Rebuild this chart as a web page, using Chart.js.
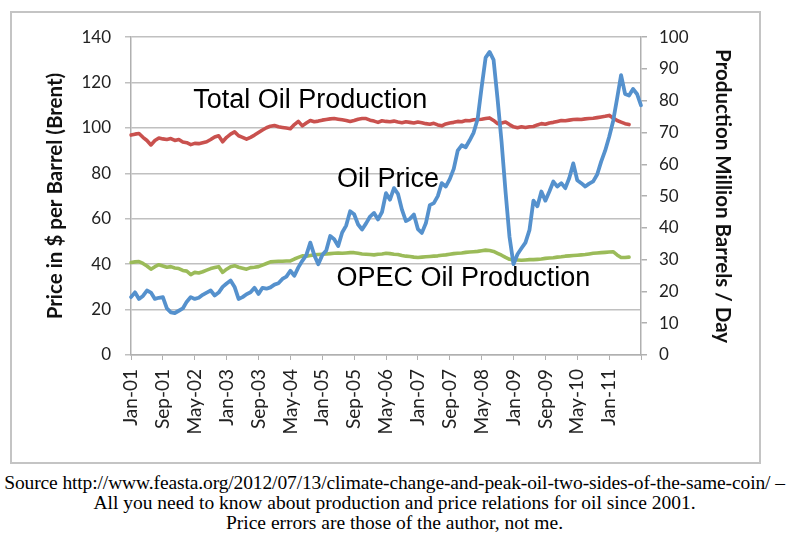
<!DOCTYPE html>
<html>
<head>
<meta charset="utf-8">
<script src="https://cdn.jsdelivr.net/npm/chart.js@4"></script>
<style>
  body { margin: 0; background: #fff; width: 789px; height: 535px; position: relative; overflow: hidden; }
  #box { position: absolute; left: 10px; top: 11px; width: 747px; height: 449px; border: 2px solid #c4c4c4; }
  #caption { position: absolute; left: 0; top: 473px; width: 789px; text-align: center;
             font-family: "Liberation Serif", "Times New Roman", serif; font-size: 19.5px; line-height: 20px; color: #000; }
  #line1 { letter-spacing: -0.12px; white-space: nowrap; }
</style>
</head>
<body>
<div id="box"><canvas id="myChart" width="747" height="449"></canvas></div>
<div id="caption">
  <div id="line1">Source http://www.feasta.org/2012/07/13/climate-change-and-peak-oil-two-sides-of-the-same-coin/ &ndash;</div>
  <div>All you need to know about production and price relations for oil since 2001.</div>
  <div>Price errors are those of the author, not me.</div>
</div>
<script>
// months Jan-01 .. Sep-11
var monthNames = ['Jan', 'Feb', 'Mar', 'Apr', 'May', 'Jun', 'Jul', 'Aug', 'Sep', 'Oct', 'Nov', 'Dec'];
var years = ['01', '02', '03', '04', '05', '06', '07', '08', '09', '10', '11'];
var months = [];
for (var y = 0; y < years.length; y++) {
  for (var m = 0; m < 12; m++) {
    if (y == 10 && m > 8) break;
    months.push(monthNames[m] + '-' + years[y]);
  }
}

// Brent price, $ per barrel (left axis)
var oilPrice = [
  25.5, 27.6, 24.7, 26.0, 28.4, 27.5, 24.7, 25.2, 25.5, 20.5, 18.8, 18.5,
  19.5, 20.5, 23.5, 25.5, 24.7, 25.2, 26.5, 27.5, 28.4, 26.2, 27.5, 30.0,
  31.5, 32.8, 30.0, 24.7, 25.5, 26.8, 27.6, 29.6, 26.9, 29.6, 29.2, 29.8,
  31.0, 31.6, 33.5, 34.5, 37.1, 34.9, 38.6, 41.5, 44.0, 49.5, 44.0, 40.0,
  44.0, 46.0, 52.4, 51.0, 48.0, 54.0, 57.0, 63.3, 62.0, 57.5, 55.3, 58.0,
  61.0, 62.6, 59.7, 63.0, 71.3, 68.4, 73.5, 71.0, 64.0, 59.0, 60.0, 61.9,
  55.5, 53.8, 58.0, 66.0, 66.9, 70.0, 75.7, 74.2, 77.5, 82.0, 90.0, 92.4,
  91.5, 94.6, 98.0, 104.0, 118.0, 131.0, 133.5, 130.0, 112.8, 94.0, 72.0, 52.0,
  40.0, 44.4, 47.0, 49.5, 55.0, 68.0, 65.5, 72.0, 68.0, 72.0, 76.4, 74.2,
  75.7, 73.5, 78.0, 84.4, 77.0, 75.7, 74.2, 75.5, 76.5, 79.5, 85.2, 90.0,
  96.0, 103.0, 113.0, 123.3, 115.0, 114.3, 117.2, 115.0, 110.0
];

// total oil production, million barrels / day (right axis)
var totalProduction = [
  69.2, 69.5, 69.7, 68.5, 67.5, 66.1, 67.5, 68.3, 68.0, 67.8, 68.1, 67.5,
  67.8, 67.0, 66.8, 66.2, 66.6, 66.5, 66.8, 67.1, 67.8, 68.6, 69.0, 67.1,
  68.5, 69.5, 70.2, 69.0, 68.5, 67.9, 68.5, 69.2, 70.0, 70.8, 71.5, 72.0,
  72.2, 71.8, 71.6, 71.4, 71.2, 72.5, 73.5, 72.1, 73.0, 73.8, 73.4, 73.6,
  73.9, 74.1, 74.3, 74.4, 74.2, 74.0, 73.8, 73.5, 73.8, 74.2, 74.4, 74.4,
  73.9, 73.6, 73.2, 73.7, 73.5, 73.4, 73.6, 73.3, 73.1, 73.4, 73.2, 73.0,
  73.3, 73.1, 72.8, 72.6, 72.9, 72.4, 72.1, 72.7, 73.0, 73.2, 73.5, 73.4,
  73.8, 73.7, 74.0, 74.1, 74.2, 74.4, 74.6, 73.8, 72.8, 73.0, 73.3, 72.5,
  71.8, 71.5, 71.8, 71.6, 71.8, 71.9, 72.4, 72.8, 72.6, 73.0, 73.2, 73.5,
  73.8, 73.7, 73.9, 74.1, 74.2, 74.1, 74.3, 74.4, 74.5, 74.7, 74.9, 75.1,
  75.4, 74.6, 73.8, 73.3, 72.8, 72.5
];

// OPEC oil production, million barrels / day (right axis)
var opecProduction = [
  29.1, 29.3, 29.4, 28.8, 28.0, 27.0, 27.8, 28.4, 28.0, 27.6, 27.8, 27.4,
  27.2, 26.6, 26.4, 25.3, 26.0, 25.8, 26.2, 26.7, 27.2, 27.5, 27.8, 26.0,
  27.0, 27.8, 28.1, 27.6, 27.3, 27.0, 27.5, 27.6, 27.8, 28.3, 28.8, 29.3,
  29.4, 29.5, 29.5, 29.6, 29.6, 30.2, 30.7, 31.2, 31.1, 31.3, 31.5, 31.6,
  31.7, 31.8, 31.9, 32.0, 32.1, 32.0, 32.1, 32.2, 32.2, 32.0, 31.8, 31.7,
  31.6, 31.5, 31.7, 31.8, 32.0, 31.9, 31.7, 31.6, 31.3, 31.1, 31.0, 30.8,
  30.7, 30.8, 30.9, 31.0, 31.1, 31.2, 31.4, 31.5, 31.7, 31.9, 32.0, 32.1,
  32.3, 32.4, 32.5, 32.6, 32.8, 33.0, 32.9, 32.6, 32.0, 31.4, 30.7, 30.1,
  29.9, 29.9, 29.8, 29.9, 30.0, 30.0, 30.1, 30.2, 30.4, 30.5, 30.6, 30.8,
  30.9, 31.1, 31.2, 31.3, 31.4, 31.5, 31.6, 31.8, 32.0, 32.1, 32.2, 32.3,
  32.4, 32.5, 31.5, 30.7, 30.7, 30.8
];

// text labels inside the plot, anchored on the category index and price axis
var notes = [
  { text: 'Total Oil Production', index: 15.6, value: 108.7 },
  { text: 'Oil Price', index: 51.7, value: 73.8 },
  { text: 'OPEC Oil Production', index: 51.6, value: 30.6 }
];

var tickFont = { family: 'Lato', size: 17 };
var xTickFont = { family: 'Lato', size: 19 };
var titleFont = { family: 'Lato', size: 20.5, weight: 'bold' };

var notesPlugin = {
  id: 'notes',
  afterDatasetsDraw: function(chart) {
    var ctx = chart.ctx;
    var xs = chart.scales.x;
    var ys = chart.scales.price;
    ctx.save();
    ctx.font = '27px "Liberation Sans", Arial, sans-serif';
    ctx.fillStyle = '#000';
    ctx.textBaseline = 'alphabetic';
    ctx.textAlign = 'left';
    for (var i = 0; i < notes.length; i++) {
      ctx.fillText(notes[i].text, xs.getPixelForValue(notes[i].index), ys.getPixelForValue(notes[i].value));
    }
    ctx.restore();
  }
};

var config = {
  type: 'line',
  data: {
    labels: months,
    datasets: [{
      label: 'Oil Price',
      data: oilPrice,
      yAxisID: 'price',
      borderColor: '#5591cd',
      borderWidth: 3.8
    }, {
      label: 'Total Oil Production',
      data: totalProduction,
      yAxisID: 'prod',
      borderColor: '#c9514e',
      borderWidth: 3.6
    }, {
      label: 'OPEC Oil Production',
      data: opecProduction,
      yAxisID: 'prod',
      borderColor: '#9bbb59',
      borderWidth: 3.6
    }]
  },
  options: {
    responsive: false,
    animation: false,
    devicePixelRatio: 1,
    layout: { padding: { top: 22, left: 0, right: 0, bottom: 0 } },
    elements: {
      point: { radius: 0 },
      line: { tension: 0, borderCapStyle: 'round', borderJoinStyle: 'round' }
    },
    plugins: { legend: { display: false }, tooltip: { enabled: false } },
    scales: {
      x: {
        type: 'category',
        offset: false,
        grid: {
          drawOnChartArea: false,
          tickLength: 5,
          color: function(c) { return c.index % 8 == 0 ? '#b0b0b0' : 'rgba(0,0,0,0)'; }
        },
        border: { color: '#b0b0b0', width: 1.5 },
        ticks: {
          autoSkip: false,
          minRotation: 90,
          maxRotation: 90,
          padding: 9,
          color: '#222',
          font: xTickFont,
          callback: function(val, index) {
            return (index % 8 == 0 && index < 128) ? this.getLabelForValue(val) : '';
          }
        },
        afterFit: function(s) { s.height = 107; }
      },
      price: {
        position: 'left',
        min: 0,
        max: 140,
        ticks: { stepSize: 20, padding: 14, color: '#222', font: tickFont },
        grid: { color: '#c0c0c0', lineWidth: 1.5, tickLength: 6 },
        border: { color: '#b0b0b0', width: 1.5 },
        title: { display: true, text: 'Price in $ per Barrel (Brent)', color: '#111', font: titleFont, padding: { top: 31, bottom: 0 } },
        afterFit: function(s) { s.width = 119; }
      },
      prod: {
        position: 'right',
        min: 0,
        max: 100,
        ticks: { stepSize: 10, padding: 12, color: '#222', font: tickFont },
        grid: { drawOnChartArea: false, color: '#b0b0b0', lineWidth: 1.5, tickLength: 6 },
        border: { color: '#b0b0b0', width: 1.5 },
        title: { display: true, text: 'Production Million Barrels / Day', color: '#111', font: titleFont, padding: { top: 24, bottom: 0 } },
        afterFit: function(s) { s.width = 118; }
      }
    }
  },
  plugins: [notesPlugin]
};

var ctx = document.getElementById('myChart').getContext('2d');
window.oilChart = new Chart(ctx, config);
</script>
</body>
</html>
